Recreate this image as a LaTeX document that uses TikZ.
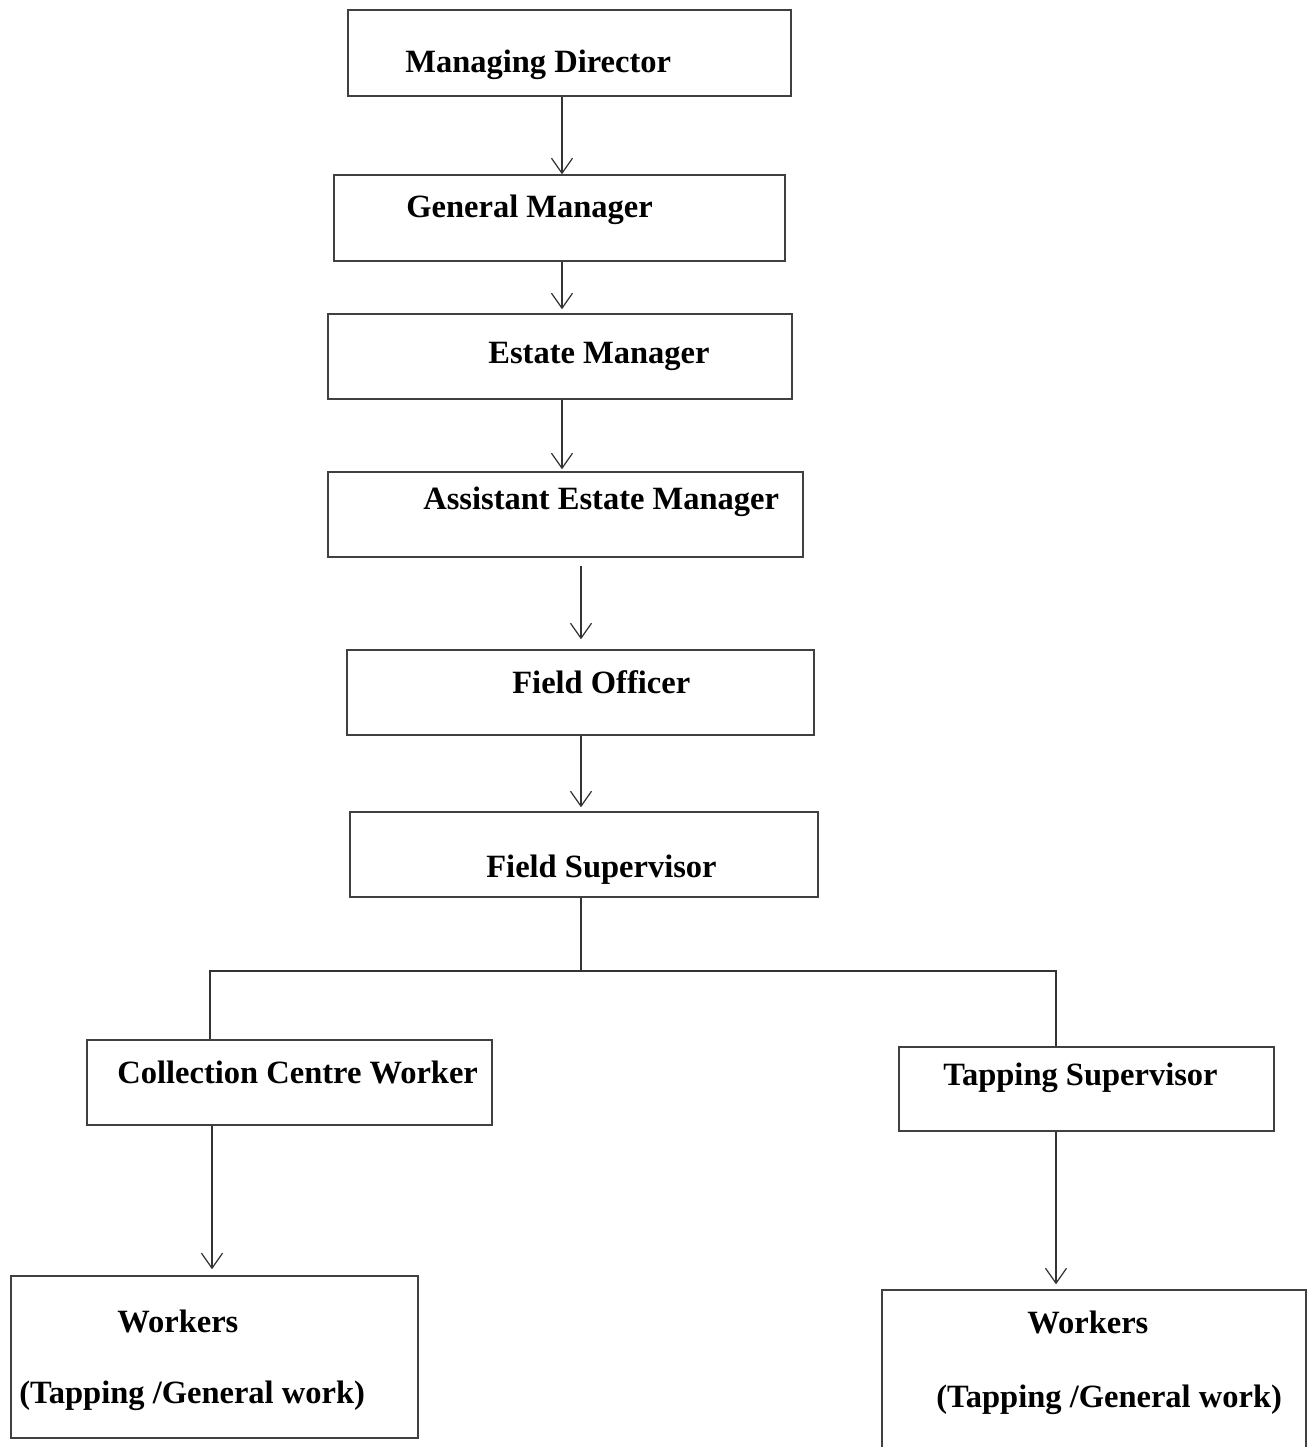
\documentclass[tikz,border=0pt]{standalone}
\usepackage{fontspec}
\setmainfont{Liberation Serif}
\usetikzlibrary{arrows.meta}
\tikzset{
    normal/.style={draw=black!75, line width=0.8pt},
    box/.style={style=normal, rectangle, inner sep=0pt}, % boxes of the chart
    t/.style={inner sep=0pt, anchor=base west, font=\fontsize{18.5}{22}\selectfont\bfseries}, % text in a box
    e/.style={draw=black!80, line width=0.7pt, -{Straight Barb[length=3mm, width=4.2mm]}}, % arrow down
    te/.style={draw=black!80, line width=0.7pt} % plain branch line
}

\begin{document}
\begin{tikzpicture}
        \useasboundingbox (0,0) rectangle (26.22,-28.94);

        % boxes
        \node[box, minimum width=8.86cm, minimum height=1.72cm] (MD) at (11.39, -1.06) {};
        \node[box, minimum width=9.02cm, minimum height=1.72cm] (GM) at (11.19, -4.36) {};
        \node[box, minimum width=9.28cm, minimum height=1.70cm] (EM) at (11.20, -7.13) {};
        \node[box, minimum width=9.50cm, minimum height=1.70cm] (AEM) at (11.31, -10.29) {};
        \node[box, minimum width=9.34cm, minimum height=1.70cm] (FO) at (11.61, -13.85) {};
        \node[box, minimum width=9.36cm, minimum height=1.70cm] (FS) at (11.68, -17.09) {};
        \node[box, minimum width=8.10cm, minimum height=1.70cm] (CCW) at (5.79, -21.65) {};
        \node[box, minimum width=7.50cm, minimum height=1.68cm] (TS) at (21.73, -21.78) {};
        \node[box, minimum width=8.14cm, minimum height=3.24cm] (W1) at (4.29, -27.14) {};
        \node[box, minimum width=8.48cm, minimum height=3.24cm] (W2) at (21.88, -27.42) {};

        % texts
        \node[t] (MDt) at (8.10, -1.44) {Managing Director};
        \node[t] (GMt) at (8.12, -4.34) {General Manager};
        \node[t] (EMt) at (9.76, -7.26) {Estate Manager};
        \node[t] (AEMt) at (8.46, -10.18) {Assistant Estate Manager};
        \node[t] (FOt) at (10.24, -13.86) {Field Officer};
        \node[t] (FSt) at (9.72, -17.54) {Field Supervisor};
        \node[t] (CCWt) at (2.34, -21.66) {Collection Centre Worker};
        \node[t] (TSt) at (18.86, -21.70) {Tapping Supervisor};
        \node[t] (W1a) at (2.34, -26.64) {Workers};
        \node[t] (W1b) at (0.38, -28.06) {(Tapping /General work)};
        \node[t] (W2a) at (20.54, -26.66) {Workers};
        \node[t] (W2b) at (18.72, -28.14) {(Tapping /General work)};

        \coordinate (BR) at (11.62, -19.42);

        \draw[e] (MD.south -| 11.24,0) -- (GM.north -| 11.24,0);
        \draw[e, shorten >=0.08cm] (GM.south -| 11.24,0) -- (EM.north -| 11.24,0);
        \draw[e, shorten >=0.04cm] (EM.south -| 11.24,0) -- (AEM.north -| 11.24,0);
        \draw[e, shorten <=0.16cm, shorten >=0.2cm] (AEM.south -| BR) -- (FO.north -| BR);
        \draw[e, shorten >=0.08cm] (FO.south -| BR) -- (FS.north -| BR);
        \draw[te] (FS.south -| BR) -- (BR) -| (CCW.north -| 4.20,0);
        \draw[te] (BR) -| (TS.north -| 21.12,0);
        \draw[e, shorten >=0.12cm] (CCW.south -| 4.24,0) -- (W1.north -| 4.24,0);
        \draw[e, shorten >=0.1cm] (TS.south -| 21.12,0) -- (W2.north -| 21.12,0);
      \end{tikzpicture}
\end{document}
